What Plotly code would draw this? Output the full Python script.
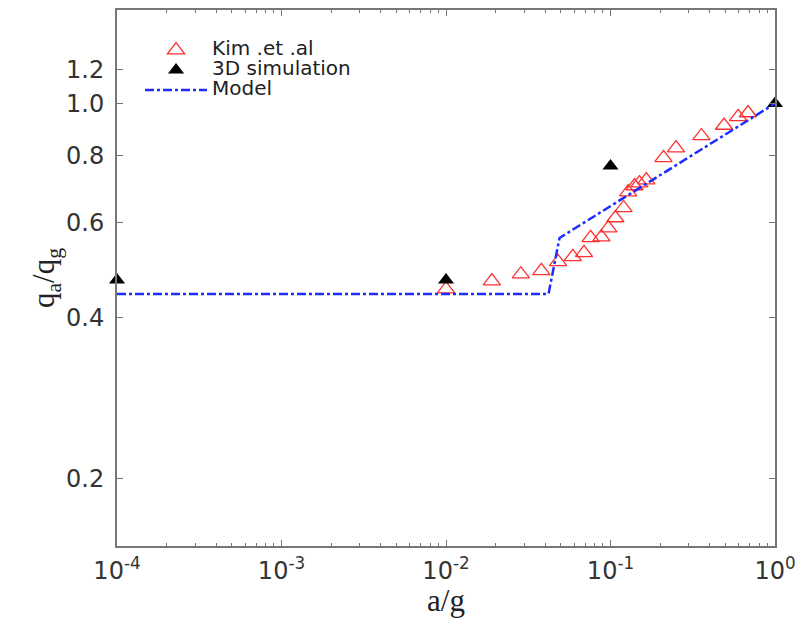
import plotly.graph_objects as go
import numpy as np

# Kim et al. experimental data
kim_x = [0.01, 0.019, 0.0285, 0.038, 0.048, 0.059, 0.069, 0.0757, 0.088, 0.097,
         0.107, 0.12, 0.128, 0.14, 0.15, 0.165, 0.21, 0.25, 0.357, 0.49, 0.597, 0.685]
kim_y = [0.451, 0.467, 0.481, 0.488, 0.507, 0.518, 0.527, 0.562, 0.564, 0.586,
         0.612, 0.639, 0.684, 0.702, 0.711, 0.720, 0.792, 0.826, 0.870, 0.910, 0.944, 0.960]

# 3D simulation
sim_x = [1e-4, 1e-2, 1e-1, 1.0]
sim_y = [0.469, 0.469, 0.765, 1.0]

# Model
model_x = [1e-4, 0.042, 0.049, 1.0]
model_y = [0.442, 0.442, 0.562, 1.0]

x_tickvals = [1e-4, 1e-3, 1e-2, 1e-1, 1]
x_ticktext = ["10<sup>-4</sup>", "10<sup>-3</sup>", "10<sup>-2</sup>", "10<sup>-1</sup>", "10<sup>0</sup>"]
y_tickvals = [0.2, 0.4, 0.6, 0.8, 1.0, 1.155]
y_ticktext = ["0.2", "0.4", "0.6", "0.8", "1.0", "1.2"]

x_minor = [m * 10.0 ** e for e in range(-4, 0) for m in range(2, 10)]

LEG = '<span style="font-size:20px">%s</span>'

fig = go.Figure()
fig.add_trace(go.Scatter(
    x=kim_x, y=kim_y, mode="markers", name=LEG % "Kim .et .al",
    marker=dict(symbol="triangle-up-open", size=15, color="#ff3030", line=dict(width=1.3, color="#ff3030")),
))
fig.add_trace(go.Scatter(
    x=sim_x, y=sim_y, mode="markers", name=LEG % "3D simulation",
    marker=dict(symbol="triangle-up", size=14, color="black"),
    cliponaxis=False,
))
fig.add_trace(go.Scatter(
    x=model_x, y=model_y, mode="lines", name=LEG % "Model",
    line=dict(color="#1a2cff", width=2.5, dash="dashdot"),
))

axis_line = "#777777"
tick_font = dict(family="DejaVu Sans", size=24, color="#333")
title_font = dict(family="Liberation Serif, DejaVu Serif, serif", size=31, color="#222")

fig.update_xaxes(
    type="log", range=[-4, 0], automargin=False,
    tickvals=x_tickvals, ticktext=x_ticktext,
    ticks="inside", ticklen=6, tickcolor=axis_line,
    minor=dict(tickvals=x_minor, ticks="inside", ticklen=3, tickcolor=axis_line),
    showline=True, linecolor=axis_line, linewidth=2, mirror="ticks",
    showgrid=False, zeroline=False,
    tickfont=tick_font, ticklabelstandoff=2,
    title=dict(text="a/g", font=title_font, standoff=4),
)
fig.update_yaxes(
    type="log", range=[np.log10(0.150), np.log10(1.493)], automargin=False,
    tickvals=y_tickvals, ticktext=y_ticktext,
    ticks="inside", ticklen=6, tickcolor=axis_line,
    showline=True, linecolor=axis_line, linewidth=2, mirror="ticks",
    showgrid=False, zeroline=False,
    tickfont=tick_font, ticklabelstandoff=6,
    title=dict(text="q<sub>a</sub>/q<sub>g</sub>", font=title_font, standoff=2),
)
fig.update_layout(
    width=796, height=610,
    margin=dict(l=109, r=29, t=2, b=72),
    plot_bgcolor="white", paper_bgcolor="white",
    showlegend=True,
    legend=dict(x=0.035, y=0.953, xanchor="left", yanchor="top",
                bgcolor="rgba(255,255,255,0)", borderwidth=0,
                font=dict(family="DejaVu Sans", size=13, color="#222"),
                tracegroupgap=0, itemwidth=62),
)
fig.write_html("out.html")
